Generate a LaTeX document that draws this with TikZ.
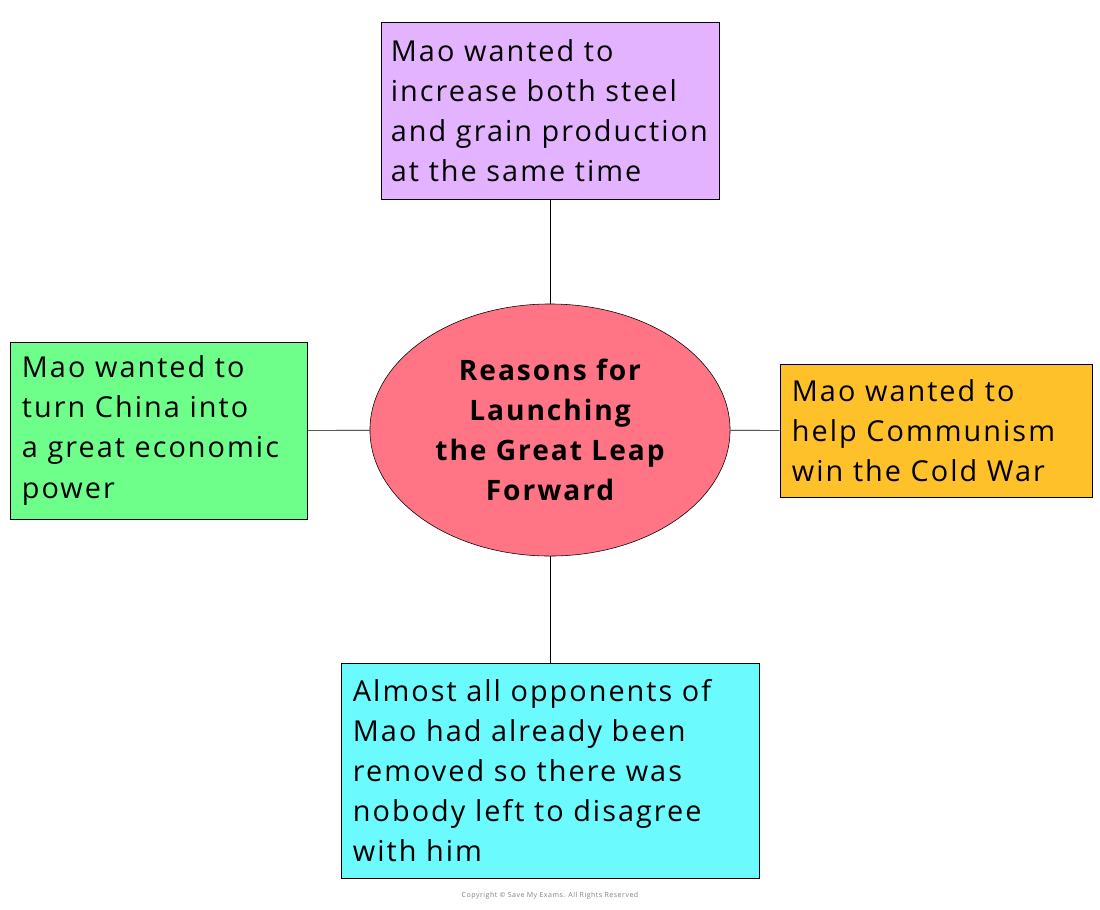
\documentclass[tikz,border=0pt]{standalone}
\usepackage{fontspec}
\setmainfont{Open Sans}[LetterSpace=7]
\usetikzlibrary{shapes.geometric, positioning}
\definecolor{boxpurple}{HTML}{E4B3FF}
\definecolor{boxgreen}{HTML}{6EFF8A}
\definecolor{boxorange}{HTML}{FFC12A}
\definecolor{boxcyan}{HTML}{6BFBFF}
\definecolor{hubred}{HTML}{FF7585}
\hyphenpenalty=10000
\begin{document}
\begin{tikzpicture}[
    x=0.025cm, y=-0.025cm,
    reason/.style={rectangle, draw, align=left, inner xsep=0.3cm, font=\fontsize{20.5}{28.45}\selectfont},
    hub/.style={ellipse, draw, fill=hubred, minimum width=9cm, minimum height=6.3cm, align=center, font=\fontsize{20}{28.45}\selectfont\bfseries},
    link/.style={thin}
]
\useasboundingbox (0,0) rectangle (1100,909);

% Centre
\node[hub] (hub) at (550,430) {Reasons for\\Launching\\the Great Leap\\Forward};

% Reasons
\node[reason, fill=boxpurple, minimum width=8.45cm, minimum height=4.425cm, text width=7.95cm, inner xsep=0.25cm] (steel) at (550,110.5) {Mao wanted to\\increase both steel\\and grain production\\at the same time};
\node[reason, fill=boxgreen, minimum width=7.425cm, minimum height=4.425cm, text width=6.825cm] (power) at (158.5,430.5) {Mao wanted to\\turn China into\\a great economic\\power};
\node[reason, fill=boxorange, minimum width=7.8cm, minimum height=3.325cm, text width=7.2cm] (coldwar) at (936,430.5) {Mao wanted to\\help Communism\\win the Cold War};
\node[reason, fill=boxcyan, minimum width=10.45cm, minimum height=5.375cm, text width=9.85cm] (opponents) at (550,770.5) {Almost all opponents of\\Mao had already been\\removed so there was\\nobody left to disagree\\with him};

\node[text=gray, font=\tiny] (copy) at (550,896) {Copyright \textcopyright{} Save My Exams. All Rights Reserved};

% Links
\draw[link] (hub) -- (steel);
\draw[link] (hub) -- (power);
\draw[link] (hub) -- (coldwar);
\draw[link] (hub) -- (opponents);
\end{tikzpicture}
\end{document}
